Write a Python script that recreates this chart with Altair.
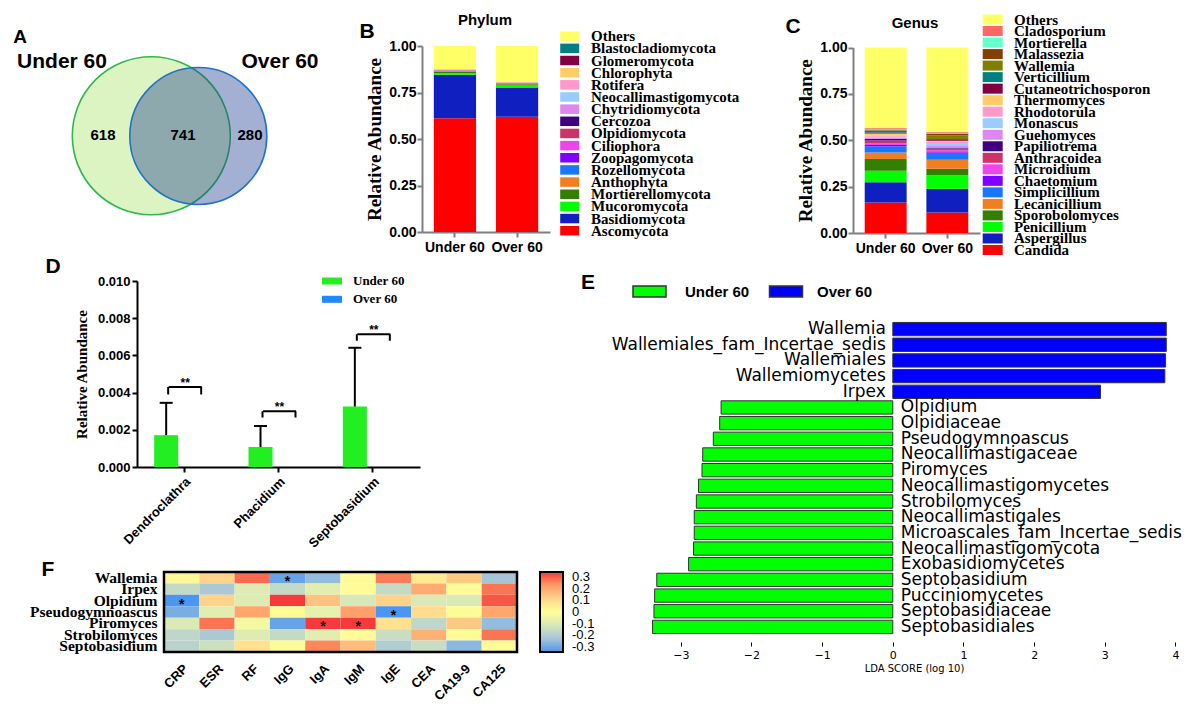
import altair as alt
import pandas as pd

SANS = "Liberation Sans"
SERIF = "Liberation Serif"
MPL = "DejaVu Sans"

# ---------------- A: Venn diagram ----------------
venn_sets = ["Under 60", "Over 60"]
venn_only_under = 618
venn_shared = 741
venn_only_over = 280

# ---------------- B: phylum composition (stack order bottom -> top) ----------------
phyla = ["Ascomycota", "Basidiomycota", "Mucoromycota", "Mortierellomycota", "Anthophyta",
         "Rozellomycota", "Zoopagomycota", "Ciliophora", "Olpidiomycota", "Cercozoa",
         "Chytridiomycota", "Neocallimastigomycota", "Rotifera", "Chlorophyta",
         "Glomeromycota", "Blastocladiomycota", "Others"]
phylum_under = [0.611, 0.234, 0.009, 0.008, 0.002, 0.002, 0.001, 0.001, 0.001, 0.0005,
                0.001, 0.001, 0.0005, 0.0005, 0.0005, 0.0005, 0.1265]
phylum_over = [0.620, 0.157, 0.013, 0.005, 0.002, 0.002, 0.001, 0.001, 0.001, 0.001,
               0.001, 0.001, 0.0005, 0.0005, 0.0005, 0.0005, 0.193]
phylum_colors = ["#ff0000", "#1020c0", "#00ff00", "#338000", "#f07f22", "#1a75ff", "#8000ff",
                 "#ee44ee", "#cc3366", "#400080", "#dd88ee", "#99ccff", "#ff99cc", "#ffcc66",
                 "#800040", "#008080", "#ffff66"]

# ---------------- C: genus composition (stack order bottom -> top) ----------------
genera = ["Candida", "Aspergillus", "Penicillium", "Sporobolomyces", "Lecanicillium",
          "Simplicillium", "Chaetomium", "Microidium", "Anthracoidea", "Papiliotrema",
          "Guehomyces", "Monascus", "Rhodotorula", "Thermomyces", "Cutaneotrichosporon",
          "Verticillium", "Wallemia", "Malassezia", "Mortierella", "Cladosporium", "Others"]
genus_under = [0.165, 0.108, 0.063, 0.063, 0.035, 0.033, 0.008, 0.008, 0.015, 0.010,
               0.006, 0.005, 0.006, 0.012, 0.005, 0.010, 0.003, 0.003, 0.004, 0.006, 0.432]
genus_over = [0.111, 0.128, 0.072, 0.036, 0.048, 0.032, 0.008, 0.010, 0.006, 0.006,
              0.016, 0.012, 0.006, 0.006, 0.004, 0.006, 0.020, 0.010, 0.004, 0.004, 0.455]
genus_colors = ["#ff0000", "#1020c0", "#00ff00", "#338000", "#f07f22", "#1a75ff", "#8000ff",
                "#ee44ee", "#cc3366", "#400080", "#dd88ee", "#99ccff", "#ff99cc", "#ffcc66",
                "#800040", "#008080", "#808000", "#804000", "#66ffcc", "#ff6666", "#ffff66"]

# ---------------- D: differential genera ----------------
d_groups = ["Under 60", "Over 60"]
d_colors = ["#22ee22", "#1e88ff"]
d_genera = ["Dendroclathra", "Phacidium", "Septobasidium"]
d_under_mean = [0.00171, 0.00107, 0.00325]
d_under_upper = [0.00345, 0.00221, 0.00641]
d_over_mean = [0.0, 0.0, 0.0]
d_bracket_top = [0.00430, 0.00300, 0.00714]
d_bracket_low = [0.00390, 0.00266, 0.00679]
d_sig = ["**", "**", "**"]

# ---------------- E: LEfSe LDA scores ----------------
e_groups = ["Under 60", "Over 60"]
e_colors = ["#00ff00", "#0000ff"]
e_taxa = ["Wallemia", "Wallemiales_fam_Incertae_sedis", "Wallemiales", "Wallemiomycetes",
          "Irpex", "Olpidium", "Olpidiaceae", "Pseudogymnoascus", "Neocallimastigaceae",
          "Piromyces", "Neocallimastigomycetes", "Strobilomyces", "Neocallimastigales",
          "Microascales_fam_Incertae_sedis", "Neocallimastigomycota", "Exobasidiomycetes",
          "Septobasidium", "Pucciniomycetes", "Septobasidiaceae", "Septobasidiales"]
e_lda = [3.87, 3.87, 3.86, 3.85, 2.94, -2.43, -2.45, -2.54, -2.69, -2.70, -2.75, -2.78,
         -2.81, -2.81, -2.82, -2.89, -3.34, -3.37, -3.38, -3.40]
e_ticks = [-3, -2, -1, 0, 1, 2, 3, 4]

# ---------------- F: correlation heatmap ----------------
f_rows = ["Wallemia", "Irpex", "Olpidium", "Pseudogymnoascus", "Piromyces",
          "Strobilomyces", "Septobasidium"]
f_cols = ["CRP", "ESR", "RF", "IgG", "IgA", "IgM", "IgE", "CEA", "CA19-9", "CA125"]
f_values = [
    [0.02, 0.10, 0.25, -0.27, -0.22, 0.01, 0.23, 0.05, 0.12, -0.20],
    [-0.14, -0.19, -0.08, -0.14, -0.07, 0.01, -0.14, 0.17, 0.01, 0.24],
    [-0.30, 0.10, -0.08, 0.30, 0.13, -0.10, 0.10, -0.09, -0.09, 0.27],
    [-0.25, -0.07, 0.18, 0.01, -0.06, 0.19, -0.30, 0.08, 0.01, 0.18],
    [-0.09, 0.24, -0.03, -0.27, 0.30, 0.30, 0.07, -0.15, 0.12, -0.22],
    [-0.15, -0.19, -0.08, -0.14, -0.07, 0.01, -0.13, 0.16, 0.01, 0.24],
    [-0.16, -0.12, 0.07, 0.01, 0.22, 0.14, -0.18, -0.13, -0.23, 0.01],
]
f_star_rows = ["Wallemia", "Olpidium", "Pseudogymnoascus", "Piromyces", "Piromyces"]
f_star_cols = ["IgG", "CRP", "IgE", "IgA", "IgM"]
f_cbar_labels = ["0.3", "0.2", "0.1", "0", "-0.1", "-0.2", "-0.3"]
f_color_domain = [-0.3, -0.2, -0.1, 0, 0.1, 0.2, 0.3]
f_color_range = ["#4b96ee", "#a6c6d8", "#d6e7b9", "#ffff9a", "#ffd48a", "#ff9a66", "#f43a3a"]

# panel letters and titles
ann_text = ["A", "B", "C", "D", "E", "F", "Phylum", "Genus"]

# ======================================================================
# Whole figure is one canvas (1184 x 692 px = reference minus 8px page margin).
# Every panel uses its own scales whose pixel ranges place it on the canvas.
W, H = 1184, 692


def px(v):          # reference-image pixel -> canvas pixel
    return v - 8


def img_x():
    return alt.Scale(domain=[8, 8 + W], range=[0, W], nice=False, zero=False)


def img_y():
    return alt.Scale(domain=[8, 8 + H], range=[0, H], nice=False, zero=False)


# ---------------- annotations (letters, titles) ----------------
ann_df = pd.DataFrame({
    "t": ann_text,
    "x": [20, 367, 793, 53, 588, 48, 485, 915],
    "y": [37, 32, 27, 267, 283, 570, 20, 23],
    "fs": [19, 21, 21, 21, 21, 21, 15, 15],
})
ann = alt.Chart(ann_df).mark_text(font=SANS, fontWeight="bold", color="black",
                                  align="center", baseline="middle").encode(
    x=alt.X("x:Q", scale=img_x(), axis=None),
    y=alt.Y("y:Q", scale=img_y(), axis=None),
    text="t:N",
    size=alt.Size("fs:Q", scale=None, legend=None),
)

# ---------------- A: Venn ----------------
circles = pd.DataFrame({"set": venn_sets, "cx": [151.3, 198.3], "cy": [135.8, 136.0]})


def vpos(ch):
    return ch.encode(x=alt.X("cx:Q", scale=img_x(), axis=None),
                     y=alt.Y("cy:Q", scale=img_y(), axis=None))


left_circle = vpos(alt.Chart(circles.iloc[[0]]).mark_point(
    shape="circle", filled=True, fill="#dcf3c2", stroke="#2eb84e", strokeWidth=1.6,
    opacity=1, size=158 ** 2))
right_fill = vpos(alt.Chart(circles.iloc[[1]]).mark_point(
    shape="circle", filled=True, fill="#193a91", fillOpacity=0.4, strokeOpacity=0,
    opacity=1, size=137 ** 2))
right_line = vpos(alt.Chart(circles.iloc[[1]]).mark_point(
    shape="circle", filled=False, stroke="#2272c6", strokeWidth=1.6, opacity=1,
    size=137 ** 2))
count_df = pd.DataFrame({
    "n": [str(venn_only_under), str(venn_shared), str(venn_only_over)],
    "cx": [103, 183, 250], "cy": [135, 135, 135]})
counts = vpos(alt.Chart(count_df).mark_text(
    font=SANS, fontSize=15, fontWeight="bold", color="black", baseline="middle")
).encode(text="n:N")
name_df = pd.DataFrame({"n": venn_sets, "cx": [62, 280], "cy": [62, 62]})
names = vpos(alt.Chart(name_df).mark_text(
    font=SANS, fontSize=21, fontWeight="bold", color="black", baseline="middle")
).encode(text="n:N")
venn = alt.layer(left_circle, right_fill, right_line, counts, names)


# ---------------- B / C: stacked bars ----------------
def stack_bars(taxa, under, over, colors, x0, x1, ybot, ytop):
    rows = []
    for i, n in enumerate(taxa):
        rows.append({"group": "Under 60", "taxon": n, "value": under[i], "rank": i})
        rows.append({"group": "Over 60", "taxon": n, "value": over[i], "rank": i})
    df = pd.DataFrame(rows)
    gray = "#7f7f7f"
    return alt.Chart(df).mark_bar().encode(
        x=alt.X("group:N", sort=["Under 60", "Over 60"], title=None,
                scale=alt.Scale(domain=["Under 60", "Over 60"], range=[px(x0), px(x1)],
                                paddingInner=0.32, paddingOuter=0.19),
                axis=alt.Axis(orient="bottom", offset=px(ybot) - H, labelAngle=0,
                              labelFont=SANS, labelFontWeight="bold", labelFontSize=14,
                              labelColor="black", labelPadding=3, domainColor=gray,
                              domainWidth=2, tickColor=gray, tickWidth=2, tickSize=5)),
        y=alt.Y("value:Q", stack="zero",
                scale=alt.Scale(domain=[0, 1], range=[px(ybot), px(ytop)], nice=False),
                axis=alt.Axis(orient="left", offset=-px(x0),
                              values=[0, 0.25, 0.5, 0.75, 1], format=".2f",
                              title="Relative Abundance", grid=False,
                              labelFont=SANS, labelFontWeight="bold", labelFontSize=14,
                              labelColor="black", labelPadding=1,
                              domainColor=gray, domainWidth=2, tickColor=gray,
                              tickWidth=2, tickSize=5,
                              titleFont=SERIF, titleFontSize=19, titleFontWeight="bold",
                              titleColor="black", titlePadding=4)),
        color=alt.Color("taxon:N", scale=alt.Scale(domain=taxa, range=colors), legend=None),
        order=alt.Order("rank:Q", sort="ascending"),
    )


def stack_legend(taxa, colors, sx, lx, y_first, y_last, sym_size):
    order = taxa[::-1]
    df = pd.DataFrame({"taxon": order})
    ys = alt.Y("taxon:N", sort=order, axis=None,
               scale=alt.Scale(type="point", domain=order, range=[px(y_first), px(y_last)],
                               padding=0))
    sw = alt.Chart(df).mark_point(shape="M-1,-0.5H1V0.5H-1Z", size=sym_size, filled=True,
                                  opacity=1, strokeWidth=0).encode(
        x=alt.value(px(sx)), y=ys,
        color=alt.Color("taxon:N", scale=alt.Scale(domain=taxa, range=colors), legend=None))
    lab = alt.Chart(df).mark_text(align="left", baseline="middle", font=SERIF,
                                  fontWeight="bold", fontSize=15, color="black").encode(
        x=alt.value(px(lx)), y=ys, text="taxon:N")
    return alt.layer(sw, lab)


phylum_bars = stack_bars(phyla, phylum_under, phylum_over, phylum_colors, 422, 550, 232, 46)
phylum_leg = stack_legend(phyla, phylum_colors, 569.7, 591, 36.2, 230.7, 361)
genus_bars = stack_bars(genera, genus_under, genus_over, genus_colors, 853, 980, 233, 47.5)
genus_leg = stack_legend(genera, genus_colors, 992.7, 1014, 19.5, 250, 400)

# ---------------- D ----------------
d_rows = []
for i, g in enumerate(d_genera):
    d_rows.append({"genus": g, "group": "Under 60", "mean": d_under_mean[i]})
    d_rows.append({"genus": g, "group": "Over 60", "mean": d_over_mean[i]})
d_df = pd.DataFrame(d_rows)
d_err = pd.DataFrame({"genus": d_genera, "group": ["Under 60"] * 3,
                      "mean": d_under_mean, "upper": d_under_upper})
d_br = pd.DataFrame({"genus": d_genera, "top": d_bracket_top, "low": d_bracket_low,
                     "sig": d_sig})

DX = alt.X("genus:N", sort=d_genera, title=None,
           scale=alt.Scale(domain=d_genera, range=[px(137), px(420)],
                           paddingInner=0, paddingOuter=0),
           axis=alt.Axis(orient="bottom", offset=px(467) - H, labelAngle=-45,
                         labelFont=SANS, labelFontWeight="bold", labelFontSize=13,
                         labelColor="black", labelPadding=3, domainColor="black",
                         domainWidth=2, tickColor="black", tickWidth=2, tickSize=5))
DXO = alt.XOffset("group:N", sort=d_groups,
                  scale=alt.Scale(domain=d_groups, paddingInner=0.333, paddingOuter=0.477))
DYS = alt.Scale(domain=[0, 0.010], range=[px(467), px(281)], nice=False)

d_bars = alt.Chart(d_df).mark_bar().encode(
    x=DX, xOffset=DXO,
    y=alt.Y("mean:Q", scale=DYS,
            axis=alt.Axis(orient="left", offset=-px(137),
                          values=[0, 0.002, 0.004, 0.006, 0.008, 0.010], format=".3f",
                          title="Relative Abundance", grid=False, labelFont=SANS,
                          labelFontWeight="bold", labelFontSize=13, labelColor="black",
                          labelPadding=2, domainColor="black", domainWidth=2,
                          tickColor="black", tickWidth=2, tickSize=5,
                          titleFont=SERIF, titleFontSize=15, titleFontWeight="bold",
                          titleColor="black", titlePadding=8)),
    color=alt.Color("group:N", scale=alt.Scale(domain=d_groups, range=d_colors), legend=None),
)
d_rule = alt.Chart(d_err).mark_rule(color="black", strokeWidth=2).encode(
    x=DX, xOffset=DXO, y=alt.Y("mean:Q", scale=DYS), y2="upper:Q")
d_cap = alt.Chart(d_err).mark_tick(color="black", thickness=2, size=13, opacity=1).encode(
    x=DX, xOffset=DXO, y=alt.Y("upper:Q", scale=DYS))
d_top = alt.Chart(d_br).mark_tick(color="black", thickness=2, size=33, xOffset=1,
                                  opacity=1).encode(x=DX, y=alt.Y("top:Q", scale=DYS))
d_leg1 = alt.Chart(d_br).mark_rule(color="black", strokeWidth=2, xOffset=-16).encode(
    x=DX, y=alt.Y("top:Q", scale=DYS), y2="low:Q")
d_leg2 = alt.Chart(d_br).mark_rule(color="black", strokeWidth=2, xOffset=17).encode(
    x=DX, y=alt.Y("top:Q", scale=DYS), y2="low:Q")
d_star = alt.Chart(d_br).mark_text(font=SANS, fontSize=12, fontWeight="bold", color="black",
                                   baseline="alphabetic", xOffset=1).encode(
    x=DX, y=alt.Y("top:Q", scale=DYS), text="sig:N")
d_panel = alt.layer(d_bars, d_rule, d_cap, d_top, d_leg1, d_leg2, d_star)

d_leg_df = pd.DataFrame({"group": d_groups})
DLY = alt.Y("group:N", sort=d_groups, axis=None,
            scale=alt.Scale(type="point", domain=d_groups, range=[px(281), px(299.3)],
                            padding=0))
d_leg = alt.layer(
    alt.Chart(d_leg_df).mark_point(shape="M-1,-0.35H1V0.35H-1Z", size=400, filled=True,
                                   opacity=1, strokeWidth=0).encode(
        x=alt.value(px(332)), y=DLY,
        color=alt.Color("group:N", scale=alt.Scale(domain=d_groups, range=d_colors),
                        legend=None)),
    alt.Chart(d_leg_df).mark_text(align="left", baseline="middle", font=SERIF,
                                  fontWeight="bold", fontSize=13, color="black").encode(
        x=alt.value(px(353)), y=DLY, text="group:N"),
)

# ---------------- E ----------------
e_df = pd.DataFrame({"taxon": e_taxa, "lda": e_lda,
                     "group": ["Over 60" if v > 0 else "Under 60" for v in e_lda]})
EXS = alt.Scale(domain=[-3.45, 4.05], range=[px(649), px(1179)], nice=False, zero=False)
EY = alt.Y("taxon:N", sort=e_taxa, axis=None,
           scale=alt.Scale(domain=e_taxa, range=[px(316), px(640)],
                           paddingInner=0.15, paddingOuter=0.41))
e_bars = alt.Chart(e_df).mark_bar(stroke="#333333", strokeWidth=1).encode(
    x=alt.X("lda:Q", scale=EXS,
            axis=alt.Axis(orient="bottom", offset=px(642) - H, values=e_ticks, format="d",
                          title="LDA SCORE (log 10)", grid=False, domain=False,
                          tickColor="black", tickSize=4, tickWidth=1, labelFont=MPL,
                          labelFontSize=11, labelColor="black", labelPadding=3,
                          titleFont=MPL, titleFontSize=10, titleFontWeight="normal",
                          titleColor="black", titlePadding=3)),
    x2=alt.datum(0),
    y=EY,
    color=alt.Color("group:N", scale=alt.Scale(domain=e_groups, range=e_colors), legend=None),
)
e_pos = alt.Chart(e_df).transform_filter("datum.lda > 0").mark_text(
    font=MPL, fontSize=17, align="right", dx=-7, baseline="middle", color="black").encode(
    x=alt.datum(0), y=EY, text="taxon:N")
e_neg = alt.Chart(e_df).transform_filter("datum.lda < 0").mark_text(
    font=MPL, fontSize=17, align="left", dx=8, baseline="middle", color="black").encode(
    x=alt.datum(0), y=EY, text="taxon:N")
e_panel = alt.layer(e_bars, e_pos, e_neg)

e_leg_df = pd.DataFrame({"group": e_groups})
e_leg_sw = alt.Chart(e_leg_df).mark_point(
    shape="M-1,-0.333H1V0.333H-1Z", size=1089, filled=True, opacity=1,
    stroke="#333333", strokeWidth=1.5).encode(
    x=alt.X("group:N", sort=e_groups, axis=None,
            scale=alt.Scale(type="point", domain=e_groups, range=[px(649.5), px(786)],
                            padding=0)),
    y=alt.value(px(291.5)),
    color=alt.Color("group:N", scale=alt.Scale(domain=e_groups, range=e_colors), legend=None))
e_leg_lab = alt.Chart(e_leg_df).mark_text(
    align="left", baseline="middle", font=SANS, fontWeight="bold", fontSize=15,
    color="black").encode(
    x=alt.X("group:N", sort=e_groups, axis=None,
            scale=alt.Scale(type="point", domain=e_groups, range=[px(685), px(817)],
                            padding=0)),
    y=alt.value(px(291.5)), text="group:N")

# ---------------- F ----------------
f_rows_data = []
for i, r in enumerate(f_rows):
    for j, c in enumerate(f_cols):
        f_rows_data.append({"genus": r, "marker": c, "r": f_values[i][j]})
f_df = pd.DataFrame(f_rows_data)
f_star_df = pd.DataFrame({"genus": f_star_rows, "marker": f_star_cols, "s": ["*"] * 5})
FX = alt.X("marker:N", sort=f_cols, title=None,
           scale=alt.Scale(domain=f_cols, range=[px(164), px(517)],
                           paddingInner=0, paddingOuter=0),
           axis=alt.Axis(orient="bottom", offset=px(652) - H, labelAngle=-45,
                         labelFont=SANS, labelFontWeight="bold", labelFontSize=13,
                         labelColor="black", labelPadding=10, domain=False, ticks=False))
FY = alt.Y("genus:N", sort=f_rows, title=None,
           scale=alt.Scale(domain=f_rows, range=[px(572), px(652)],
                           paddingInner=0, paddingOuter=0),
           axis=alt.Axis(orient="left", offset=-px(164), labelFont=SERIF,
                         labelFontWeight="bold", labelFontSize=15.5, labelColor="black",
                         labelPadding=7, domain=False, ticks=False, labelLimit=300))
f_rect = alt.Chart(f_df).mark_rect().encode(
    x=FX, y=FY,
    color=alt.Color("r:Q", scale=alt.Scale(domain=f_color_domain, range=f_color_range,
                                           interpolate="rgb"),
                    legend=alt.Legend(orient="none", legendX=px(540), legendY=px(572),
                                      title=None, direction="vertical",
                                      gradientLength=80, gradientThickness=23,
                                      gradientStrokeColor="black", gradientStrokeWidth=2,
                                      labelExpr="''", labelFontSize=1)),
)
f_star = alt.Chart(f_star_df).mark_text(font=SANS, fontSize=14, fontWeight="bold",
                                        color="black", baseline="alphabetic", dy=8).encode(
    x=FX, y=FY, text="s:N")
f_border = alt.Chart(pd.DataFrame({"v": [0]})).mark_rect(
    fillOpacity=0, stroke="black", strokeWidth=2.5).encode(
    x=alt.value(px(164)), x2=alt.value(px(517)), y=alt.value(px(572)), y2=alt.value(px(652)))
f_panel = alt.layer(f_rect, f_star, f_border)

# colour-bar tick labels and tick marks
cb_df = pd.DataFrame({"lab": f_cbar_labels})
CBY = alt.Y("lab:N", sort=f_cbar_labels, axis=None,
            scale=alt.Scale(type="point", domain=f_cbar_labels, range=[px(577), px(647)],
                            padding=0))
f_cbar = alt.layer(
    alt.Chart(cb_df).mark_text(align="left", baseline="middle", font=SANS, fontSize=13,
                               color="black").encode(x=alt.value(px(572)), y=CBY,
                                                     text="lab:N"),
    alt.Chart(cb_df).mark_rule(color="black", strokeWidth=1.5).encode(
        x=alt.value(px(541)), x2=alt.value(px(544.5)), y=CBY),
    alt.Chart(cb_df).mark_rule(color="black", strokeWidth=1.5).encode(
        x=alt.value(px(558.5)), x2=alt.value(px(562)), y=CBY),
)

chart = alt.layer(
    venn, phylum_bars, phylum_leg, genus_bars, genus_leg, d_panel, d_leg,
    e_panel, e_leg_sw, e_leg_lab, f_panel, f_cbar, ann
).resolve_scale(
    x="independent", y="independent", color="independent", size="independent"
).resolve_axis(x="independent", y="independent").resolve_legend(
    color="independent", size="independent"
).properties(width=W, height=H, padding=0, background="white").configure_view(stroke=None)

chart.save("out.html", embed_options={"renderer": "svg", "actions": False})
